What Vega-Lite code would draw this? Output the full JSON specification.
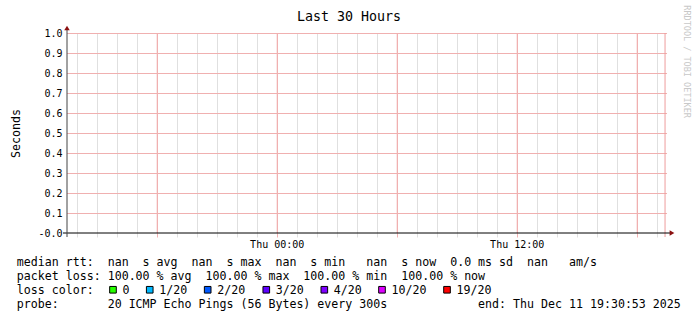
{
  "$schema": "https://vega.github.io/schema/vega-lite/v6.json",
  "background": "white",
  "padding": {"left": 10, "top": 5, "right": 0, "bottom": 0},
  "spacing": 8,
  "title": {"text": "RRDTOOL / TOBI OETIKER", "orient": "right", "anchor": "start", "frame": "bounds", "font": "DejaVu Sans Mono", "fontSize": 8.5, "fontWeight": "normal", "color": "#c8c8c8", "offset": 2, "dx": -5},
  "config": {"view": {"stroke": null}, "font": "DejaVu Sans Mono", "axis": {"gridColor": "#e0e0e0", "tickColor": "#e0e0e0"}, "axisY": {"gridColor": "#f0b0b0"}},
  "vconcat": [
    {
      "width": 600,
      "height": 200,
      "title": {"text": "Last 30 Hours", "anchor": "middle", "font": "DejaVu Sans Mono", "fontSize": 13.3, "fontWeight": "normal", "color": "#000000", "offset": 2, "dx": -18},
      "data": {"values": [
        {"time": "2025-12-10T13:30:53", "median_rtt": null, "packet_loss": 100},
        {"time": "2025-12-11T19:30:53", "median_rtt": null, "packet_loss": 100}
      ]},
      "layer": [
        {
          "mark": {"type": "line", "color": "#000000"},
          "encoding": {
            "x": {"field": "time", "type": "temporal",
              "scale": {"domain": [{"year": 2025, "month": 12, "date": 10, "hours": 13, "minutes": 30, "seconds": 53}, {"year": 2025, "month": 12, "date": 11, "hours": 19, "minutes": 30, "seconds": 53}]},
              "axis": {"title": null, "domain": false, "grid": true, "gridColor": {"condition": {"test": "indexof(['00','06','12','18'], timeFormat(datum.value, '%H')) >= 0", "value": "#f2b2b2"}, "value": "#e0e0e0"}, "ticks": true, "tickColor": {"condition": {"test": "indexof(['00','06','12','18'], timeFormat(datum.value, '%H')) >= 0", "value": "#f2b2b2"}, "value": "#e0e0e0"}, "tickSize": 4, "values": [{"year": 2025, "month": 12, "date": 10, "hours": 14}, {"year": 2025, "month": 12, "date": 10, "hours": 15}, {"year": 2025, "month": 12, "date": 10, "hours": 16}, {"year": 2025, "month": 12, "date": 10, "hours": 17}, {"year": 2025, "month": 12, "date": 10, "hours": 18}, {"year": 2025, "month": 12, "date": 10, "hours": 19}, {"year": 2025, "month": 12, "date": 10, "hours": 20}, {"year": 2025, "month": 12, "date": 10, "hours": 21}, {"year": 2025, "month": 12, "date": 10, "hours": 22}, {"year": 2025, "month": 12, "date": 10, "hours": 23}, {"year": 2025, "month": 12, "date": 11, "hours": 0}, {"year": 2025, "month": 12, "date": 11, "hours": 1}, {"year": 2025, "month": 12, "date": 11, "hours": 2}, {"year": 2025, "month": 12, "date": 11, "hours": 3}, {"year": 2025, "month": 12, "date": 11, "hours": 4}, {"year": 2025, "month": 12, "date": 11, "hours": 5}, {"year": 2025, "month": 12, "date": 11, "hours": 6}, {"year": 2025, "month": 12, "date": 11, "hours": 7}, {"year": 2025, "month": 12, "date": 11, "hours": 8}, {"year": 2025, "month": 12, "date": 11, "hours": 9}, {"year": 2025, "month": 12, "date": 11, "hours": 10}, {"year": 2025, "month": 12, "date": 11, "hours": 11}, {"year": 2025, "month": 12, "date": 11, "hours": 12}, {"year": 2025, "month": 12, "date": 11, "hours": 13}, {"year": 2025, "month": 12, "date": 11, "hours": 14}, {"year": 2025, "month": 12, "date": 11, "hours": 15}, {"year": 2025, "month": 12, "date": 11, "hours": 16}, {"year": 2025, "month": 12, "date": 11, "hours": 17}, {"year": 2025, "month": 12, "date": 11, "hours": 18}, {"year": 2025, "month": 12, "date": 11, "hours": 19}], "labelExpr": "indexof(['00','12'], timeFormat(datum.value, '%H')) >= 0 ? timeFormat(datum.value, '%a %H:%M') : ''", "labelFont": "DejaVu Sans Mono", "labelFontSize": 10, "labelColor": "#000000", "labelPadding": 2, "labelOverlap": false, "labelFlush": false}},
            "y": {"field": "median_rtt", "type": "quantitative",
              "scale": {"domain": [0, 1], "nice": false},
              "axis": {"title": "Seconds", "titleFont": "DejaVu Sans Mono", "titleFontSize": 11.6, "titleFontWeight": "normal", "titleColor": "#000000", "titlePadding": 16, "values": [0, 0.1, 0.2, 0.3, 0.4, 0.5, 0.6, 0.7, 0.8, 0.9, 1.0], "labelExpr": "datum.value == 0 ? '-0.0' : format(datum.value, '.1f')", "labelFont": "DejaVu Sans Mono", "labelFontSize": 10, "labelColor": "#000000", "labelPadding": 5, "labelOverlap": false, "labelFlush": false, "ticks": false, "domain": false, "grid": false}}
          }
        },
        {
          "data": {"values": [{"level": 0.1}, {"level": 0.2}, {"level": 0.3}, {"level": 0.4}, {"level": 0.5}, {"level": 0.6}, {"level": 0.7}, {"level": 0.8}, {"level": 0.9}, {"level": 1.0}]},
          "mark": {"type": "rule", "color": "#f0b0b0", "strokeWidth": 1, "yOffset": 0.5},
          "encoding": {
            "y": {"field": "level", "type": "quantitative",
              "axis": {"title": "Seconds", "titleFont": "DejaVu Sans Mono", "titleFontSize": 11.6, "titleFontWeight": "normal", "titleColor": "#000000", "titlePadding": 16, "values": [0, 0.1, 0.2, 0.3, 0.4, 0.5, 0.6, 0.7, 0.8, 0.9, 1.0], "labelExpr": "datum.value == 0 ? '-0.0' : format(datum.value, '.1f')", "labelFont": "DejaVu Sans Mono", "labelFontSize": 10, "labelColor": "#000000", "labelPadding": 5, "labelOverlap": false, "labelFlush": false, "ticks": false, "domain": false, "grid": false}}
          }
        },
        {
          "data": {"values": [{"major": "2025-12-10T18:00:00"}, {"major": "2025-12-11T00:00:00"}, {"major": "2025-12-11T06:00:00"}, {"major": "2025-12-11T12:00:00"}, {"major": "2025-12-11T18:00:00"}]},
          "mark": {"type": "rule", "color": "#f0b0b0", "strokeWidth": 1, "xOffset": 0.5},
          "encoding": {
            "x": {"field": "major", "type": "temporal",
              "axis": {"title": null, "domain": false, "grid": true, "gridColor": {"condition": {"test": "indexof(['00','06','12','18'], timeFormat(datum.value, '%H')) >= 0", "value": "#f2b2b2"}, "value": "#e0e0e0"}, "ticks": true, "tickColor": {"condition": {"test": "indexof(['00','06','12','18'], timeFormat(datum.value, '%H')) >= 0", "value": "#f2b2b2"}, "value": "#e0e0e0"}, "tickSize": 4, "values": [{"year": 2025, "month": 12, "date": 10, "hours": 14}, {"year": 2025, "month": 12, "date": 10, "hours": 15}, {"year": 2025, "month": 12, "date": 10, "hours": 16}, {"year": 2025, "month": 12, "date": 10, "hours": 17}, {"year": 2025, "month": 12, "date": 10, "hours": 18}, {"year": 2025, "month": 12, "date": 10, "hours": 19}, {"year": 2025, "month": 12, "date": 10, "hours": 20}, {"year": 2025, "month": 12, "date": 10, "hours": 21}, {"year": 2025, "month": 12, "date": 10, "hours": 22}, {"year": 2025, "month": 12, "date": 10, "hours": 23}, {"year": 2025, "month": 12, "date": 11, "hours": 0}, {"year": 2025, "month": 12, "date": 11, "hours": 1}, {"year": 2025, "month": 12, "date": 11, "hours": 2}, {"year": 2025, "month": 12, "date": 11, "hours": 3}, {"year": 2025, "month": 12, "date": 11, "hours": 4}, {"year": 2025, "month": 12, "date": 11, "hours": 5}, {"year": 2025, "month": 12, "date": 11, "hours": 6}, {"year": 2025, "month": 12, "date": 11, "hours": 7}, {"year": 2025, "month": 12, "date": 11, "hours": 8}, {"year": 2025, "month": 12, "date": 11, "hours": 9}, {"year": 2025, "month": 12, "date": 11, "hours": 10}, {"year": 2025, "month": 12, "date": 11, "hours": 11}, {"year": 2025, "month": 12, "date": 11, "hours": 12}, {"year": 2025, "month": 12, "date": 11, "hours": 13}, {"year": 2025, "month": 12, "date": 11, "hours": 14}, {"year": 2025, "month": 12, "date": 11, "hours": 15}, {"year": 2025, "month": 12, "date": 11, "hours": 16}, {"year": 2025, "month": 12, "date": 11, "hours": 17}, {"year": 2025, "month": 12, "date": 11, "hours": 18}, {"year": 2025, "month": 12, "date": 11, "hours": 19}], "labelExpr": "indexof(['00','12'], timeFormat(datum.value, '%H')) >= 0 ? timeFormat(datum.value, '%a %H:%M') : ''", "labelFont": "DejaVu Sans Mono", "labelFontSize": 10, "labelColor": "#000000", "labelPadding": 2, "labelOverlap": false, "labelFlush": false}}
          }
        },
        {
          "data": {"values": [{"event": "last update", "time": "2025-12-11T19:25:00"}]},
          "mark": {"type": "rule", "color": "#ee9c9c", "yOffset": 4},
          "encoding": {
            "x": {"field": "time", "type": "temporal",
              "axis": {"title": null, "domain": false, "grid": true, "gridColor": {"condition": {"test": "indexof(['00','06','12','18'], timeFormat(datum.value, '%H')) >= 0", "value": "#f2b2b2"}, "value": "#e0e0e0"}, "ticks": true, "tickColor": {"condition": {"test": "indexof(['00','06','12','18'], timeFormat(datum.value, '%H')) >= 0", "value": "#f2b2b2"}, "value": "#e0e0e0"}, "tickSize": 4, "values": [{"year": 2025, "month": 12, "date": 10, "hours": 14}, {"year": 2025, "month": 12, "date": 10, "hours": 15}, {"year": 2025, "month": 12, "date": 10, "hours": 16}, {"year": 2025, "month": 12, "date": 10, "hours": 17}, {"year": 2025, "month": 12, "date": 10, "hours": 18}, {"year": 2025, "month": 12, "date": 10, "hours": 19}, {"year": 2025, "month": 12, "date": 10, "hours": 20}, {"year": 2025, "month": 12, "date": 10, "hours": 21}, {"year": 2025, "month": 12, "date": 10, "hours": 22}, {"year": 2025, "month": 12, "date": 10, "hours": 23}, {"year": 2025, "month": 12, "date": 11, "hours": 0}, {"year": 2025, "month": 12, "date": 11, "hours": 1}, {"year": 2025, "month": 12, "date": 11, "hours": 2}, {"year": 2025, "month": 12, "date": 11, "hours": 3}, {"year": 2025, "month": 12, "date": 11, "hours": 4}, {"year": 2025, "month": 12, "date": 11, "hours": 5}, {"year": 2025, "month": 12, "date": 11, "hours": 6}, {"year": 2025, "month": 12, "date": 11, "hours": 7}, {"year": 2025, "month": 12, "date": 11, "hours": 8}, {"year": 2025, "month": 12, "date": 11, "hours": 9}, {"year": 2025, "month": 12, "date": 11, "hours": 10}, {"year": 2025, "month": 12, "date": 11, "hours": 11}, {"year": 2025, "month": 12, "date": 11, "hours": 12}, {"year": 2025, "month": 12, "date": 11, "hours": 13}, {"year": 2025, "month": 12, "date": 11, "hours": 14}, {"year": 2025, "month": 12, "date": 11, "hours": 15}, {"year": 2025, "month": 12, "date": 11, "hours": 16}, {"year": 2025, "month": 12, "date": 11, "hours": 17}, {"year": 2025, "month": 12, "date": 11, "hours": 18}, {"year": 2025, "month": 12, "date": 11, "hours": 19}], "labelExpr": "indexof(['00','12'], timeFormat(datum.value, '%H')) >= 0 ? timeFormat(datum.value, '%a %H:%M') : ''", "labelFont": "DejaVu Sans Mono", "labelFontSize": 10, "labelColor": "#000000", "labelPadding": 2, "labelOverlap": false, "labelFlush": false}},
            "y": {"datum": 0, "type": "quantitative",
              "axis": {"title": "Seconds", "titleFont": "DejaVu Sans Mono", "titleFontSize": 11.6, "titleFontWeight": "normal", "titleColor": "#000000", "titlePadding": 16, "values": [0, 0.1, 0.2, 0.3, 0.4, 0.5, 0.6, 0.7, 0.8, 0.9, 1.0], "labelExpr": "datum.value == 0 ? '-0.0' : format(datum.value, '.1f')", "labelFont": "DejaVu Sans Mono", "labelFontSize": 10, "labelColor": "#000000", "labelPadding": 5, "labelOverlap": false, "labelFlush": false, "ticks": false, "domain": false, "grid": false}},
            "y2": {"datum": 1}
          }
        },
        {
          "data": {"values": [{"part": "time axis line"}]},
          "mark": {"type": "rule", "color": "#000000", "strokeWidth": 1, "xOffset": -4, "x2Offset": 4},
          "encoding": {
            "x": {"datum": {"year": 2025, "month": 12, "date": 10, "hours": 13, "minutes": 30, "seconds": 53}, "type": "temporal",
              "axis": {"title": null, "domain": false, "grid": true, "gridColor": {"condition": {"test": "indexof(['00','06','12','18'], timeFormat(datum.value, '%H')) >= 0", "value": "#f2b2b2"}, "value": "#e0e0e0"}, "ticks": true, "tickColor": {"condition": {"test": "indexof(['00','06','12','18'], timeFormat(datum.value, '%H')) >= 0", "value": "#f2b2b2"}, "value": "#e0e0e0"}, "tickSize": 4, "values": [{"year": 2025, "month": 12, "date": 10, "hours": 14}, {"year": 2025, "month": 12, "date": 10, "hours": 15}, {"year": 2025, "month": 12, "date": 10, "hours": 16}, {"year": 2025, "month": 12, "date": 10, "hours": 17}, {"year": 2025, "month": 12, "date": 10, "hours": 18}, {"year": 2025, "month": 12, "date": 10, "hours": 19}, {"year": 2025, "month": 12, "date": 10, "hours": 20}, {"year": 2025, "month": 12, "date": 10, "hours": 21}, {"year": 2025, "month": 12, "date": 10, "hours": 22}, {"year": 2025, "month": 12, "date": 10, "hours": 23}, {"year": 2025, "month": 12, "date": 11, "hours": 0}, {"year": 2025, "month": 12, "date": 11, "hours": 1}, {"year": 2025, "month": 12, "date": 11, "hours": 2}, {"year": 2025, "month": 12, "date": 11, "hours": 3}, {"year": 2025, "month": 12, "date": 11, "hours": 4}, {"year": 2025, "month": 12, "date": 11, "hours": 5}, {"year": 2025, "month": 12, "date": 11, "hours": 6}, {"year": 2025, "month": 12, "date": 11, "hours": 7}, {"year": 2025, "month": 12, "date": 11, "hours": 8}, {"year": 2025, "month": 12, "date": 11, "hours": 9}, {"year": 2025, "month": 12, "date": 11, "hours": 10}, {"year": 2025, "month": 12, "date": 11, "hours": 11}, {"year": 2025, "month": 12, "date": 11, "hours": 12}, {"year": 2025, "month": 12, "date": 11, "hours": 13}, {"year": 2025, "month": 12, "date": 11, "hours": 14}, {"year": 2025, "month": 12, "date": 11, "hours": 15}, {"year": 2025, "month": 12, "date": 11, "hours": 16}, {"year": 2025, "month": 12, "date": 11, "hours": 17}, {"year": 2025, "month": 12, "date": 11, "hours": 18}, {"year": 2025, "month": 12, "date": 11, "hours": 19}], "labelExpr": "indexof(['00','12'], timeFormat(datum.value, '%H')) >= 0 ? timeFormat(datum.value, '%a %H:%M') : ''", "labelFont": "DejaVu Sans Mono", "labelFontSize": 10, "labelColor": "#000000", "labelPadding": 2, "labelOverlap": false, "labelFlush": false}},
            "x2": {"datum": {"year": 2025, "month": 12, "date": 11, "hours": 19, "minutes": 30, "seconds": 53}},
            "y": {"datum": 0, "type": "quantitative",
              "axis": {"title": "Seconds", "titleFont": "DejaVu Sans Mono", "titleFontSize": 11.6, "titleFontWeight": "normal", "titleColor": "#000000", "titlePadding": 16, "values": [0, 0.1, 0.2, 0.3, 0.4, 0.5, 0.6, 0.7, 0.8, 0.9, 1.0], "labelExpr": "datum.value == 0 ? '-0.0' : format(datum.value, '.1f')", "labelFont": "DejaVu Sans Mono", "labelFontSize": 10, "labelColor": "#000000", "labelPadding": 5, "labelOverlap": false, "labelFlush": false, "ticks": false, "domain": false, "grid": false}}
          }
        },
        {
          "data": {"values": [{"part": "value axis line"}]},
          "mark": {"type": "rule", "color": "#444444", "strokeWidth": 1, "yOffset": 4, "y2Offset": -5},
          "encoding": {
            "x": {"datum": {"year": 2025, "month": 12, "date": 10, "hours": 13, "minutes": 30, "seconds": 53}, "type": "temporal",
              "axis": {"title": null, "domain": false, "grid": true, "gridColor": {"condition": {"test": "indexof(['00','06','12','18'], timeFormat(datum.value, '%H')) >= 0", "value": "#f2b2b2"}, "value": "#e0e0e0"}, "ticks": true, "tickColor": {"condition": {"test": "indexof(['00','06','12','18'], timeFormat(datum.value, '%H')) >= 0", "value": "#f2b2b2"}, "value": "#e0e0e0"}, "tickSize": 4, "values": [{"year": 2025, "month": 12, "date": 10, "hours": 14}, {"year": 2025, "month": 12, "date": 10, "hours": 15}, {"year": 2025, "month": 12, "date": 10, "hours": 16}, {"year": 2025, "month": 12, "date": 10, "hours": 17}, {"year": 2025, "month": 12, "date": 10, "hours": 18}, {"year": 2025, "month": 12, "date": 10, "hours": 19}, {"year": 2025, "month": 12, "date": 10, "hours": 20}, {"year": 2025, "month": 12, "date": 10, "hours": 21}, {"year": 2025, "month": 12, "date": 10, "hours": 22}, {"year": 2025, "month": 12, "date": 10, "hours": 23}, {"year": 2025, "month": 12, "date": 11, "hours": 0}, {"year": 2025, "month": 12, "date": 11, "hours": 1}, {"year": 2025, "month": 12, "date": 11, "hours": 2}, {"year": 2025, "month": 12, "date": 11, "hours": 3}, {"year": 2025, "month": 12, "date": 11, "hours": 4}, {"year": 2025, "month": 12, "date": 11, "hours": 5}, {"year": 2025, "month": 12, "date": 11, "hours": 6}, {"year": 2025, "month": 12, "date": 11, "hours": 7}, {"year": 2025, "month": 12, "date": 11, "hours": 8}, {"year": 2025, "month": 12, "date": 11, "hours": 9}, {"year": 2025, "month": 12, "date": 11, "hours": 10}, {"year": 2025, "month": 12, "date": 11, "hours": 11}, {"year": 2025, "month": 12, "date": 11, "hours": 12}, {"year": 2025, "month": 12, "date": 11, "hours": 13}, {"year": 2025, "month": 12, "date": 11, "hours": 14}, {"year": 2025, "month": 12, "date": 11, "hours": 15}, {"year": 2025, "month": 12, "date": 11, "hours": 16}, {"year": 2025, "month": 12, "date": 11, "hours": 17}, {"year": 2025, "month": 12, "date": 11, "hours": 18}, {"year": 2025, "month": 12, "date": 11, "hours": 19}], "labelExpr": "indexof(['00','12'], timeFormat(datum.value, '%H')) >= 0 ? timeFormat(datum.value, '%a %H:%M') : ''", "labelFont": "DejaVu Sans Mono", "labelFontSize": 10, "labelColor": "#000000", "labelPadding": 2, "labelOverlap": false, "labelFlush": false}},
            "y": {"datum": 0, "type": "quantitative",
              "axis": {"title": "Seconds", "titleFont": "DejaVu Sans Mono", "titleFontSize": 11.6, "titleFontWeight": "normal", "titleColor": "#000000", "titlePadding": 16, "values": [0, 0.1, 0.2, 0.3, 0.4, 0.5, 0.6, 0.7, 0.8, 0.9, 1.0], "labelExpr": "datum.value == 0 ? '-0.0' : format(datum.value, '.1f')", "labelFont": "DejaVu Sans Mono", "labelFontSize": 10, "labelColor": "#000000", "labelPadding": 5, "labelOverlap": false, "labelFlush": false, "ticks": false, "domain": false, "grid": false}},
            "y2": {"datum": 1}
          }
        },
        {
          "data": {"values": [{"part": "value axis arrow"}]},
          "mark": {"type": "point", "shape": "triangle-up", "filled": true, "color": "#8b1010", "opacity": 1, "size": 30, "yOffset": -5},
          "encoding": {
            "x": {"datum": {"year": 2025, "month": 12, "date": 10, "hours": 13, "minutes": 30, "seconds": 53}, "type": "temporal",
              "axis": {"title": null, "domain": false, "grid": true, "gridColor": {"condition": {"test": "indexof(['00','06','12','18'], timeFormat(datum.value, '%H')) >= 0", "value": "#f2b2b2"}, "value": "#e0e0e0"}, "ticks": true, "tickColor": {"condition": {"test": "indexof(['00','06','12','18'], timeFormat(datum.value, '%H')) >= 0", "value": "#f2b2b2"}, "value": "#e0e0e0"}, "tickSize": 4, "values": [{"year": 2025, "month": 12, "date": 10, "hours": 14}, {"year": 2025, "month": 12, "date": 10, "hours": 15}, {"year": 2025, "month": 12, "date": 10, "hours": 16}, {"year": 2025, "month": 12, "date": 10, "hours": 17}, {"year": 2025, "month": 12, "date": 10, "hours": 18}, {"year": 2025, "month": 12, "date": 10, "hours": 19}, {"year": 2025, "month": 12, "date": 10, "hours": 20}, {"year": 2025, "month": 12, "date": 10, "hours": 21}, {"year": 2025, "month": 12, "date": 10, "hours": 22}, {"year": 2025, "month": 12, "date": 10, "hours": 23}, {"year": 2025, "month": 12, "date": 11, "hours": 0}, {"year": 2025, "month": 12, "date": 11, "hours": 1}, {"year": 2025, "month": 12, "date": 11, "hours": 2}, {"year": 2025, "month": 12, "date": 11, "hours": 3}, {"year": 2025, "month": 12, "date": 11, "hours": 4}, {"year": 2025, "month": 12, "date": 11, "hours": 5}, {"year": 2025, "month": 12, "date": 11, "hours": 6}, {"year": 2025, "month": 12, "date": 11, "hours": 7}, {"year": 2025, "month": 12, "date": 11, "hours": 8}, {"year": 2025, "month": 12, "date": 11, "hours": 9}, {"year": 2025, "month": 12, "date": 11, "hours": 10}, {"year": 2025, "month": 12, "date": 11, "hours": 11}, {"year": 2025, "month": 12, "date": 11, "hours": 12}, {"year": 2025, "month": 12, "date": 11, "hours": 13}, {"year": 2025, "month": 12, "date": 11, "hours": 14}, {"year": 2025, "month": 12, "date": 11, "hours": 15}, {"year": 2025, "month": 12, "date": 11, "hours": 16}, {"year": 2025, "month": 12, "date": 11, "hours": 17}, {"year": 2025, "month": 12, "date": 11, "hours": 18}, {"year": 2025, "month": 12, "date": 11, "hours": 19}], "labelExpr": "indexof(['00','12'], timeFormat(datum.value, '%H')) >= 0 ? timeFormat(datum.value, '%a %H:%M') : ''", "labelFont": "DejaVu Sans Mono", "labelFontSize": 10, "labelColor": "#000000", "labelPadding": 2, "labelOverlap": false, "labelFlush": false}},
            "y": {"datum": 1, "type": "quantitative",
              "axis": {"title": "Seconds", "titleFont": "DejaVu Sans Mono", "titleFontSize": 11.6, "titleFontWeight": "normal", "titleColor": "#000000", "titlePadding": 16, "values": [0, 0.1, 0.2, 0.3, 0.4, 0.5, 0.6, 0.7, 0.8, 0.9, 1.0], "labelExpr": "datum.value == 0 ? '-0.0' : format(datum.value, '.1f')", "labelFont": "DejaVu Sans Mono", "labelFontSize": 10, "labelColor": "#000000", "labelPadding": 5, "labelOverlap": false, "labelFlush": false, "ticks": false, "domain": false, "grid": false}}
          }
        },
        {
          "data": {"values": [{"part": "time axis arrow"}]},
          "mark": {"type": "point", "shape": "triangle-right", "filled": true, "color": "#8b1010", "opacity": 1, "size": 30, "xOffset": 5},
          "encoding": {
            "x": {"datum": {"year": 2025, "month": 12, "date": 11, "hours": 19, "minutes": 30, "seconds": 53}, "type": "temporal",
              "axis": {"title": null, "domain": false, "grid": true, "gridColor": {"condition": {"test": "indexof(['00','06','12','18'], timeFormat(datum.value, '%H')) >= 0", "value": "#f2b2b2"}, "value": "#e0e0e0"}, "ticks": true, "tickColor": {"condition": {"test": "indexof(['00','06','12','18'], timeFormat(datum.value, '%H')) >= 0", "value": "#f2b2b2"}, "value": "#e0e0e0"}, "tickSize": 4, "values": [{"year": 2025, "month": 12, "date": 10, "hours": 14}, {"year": 2025, "month": 12, "date": 10, "hours": 15}, {"year": 2025, "month": 12, "date": 10, "hours": 16}, {"year": 2025, "month": 12, "date": 10, "hours": 17}, {"year": 2025, "month": 12, "date": 10, "hours": 18}, {"year": 2025, "month": 12, "date": 10, "hours": 19}, {"year": 2025, "month": 12, "date": 10, "hours": 20}, {"year": 2025, "month": 12, "date": 10, "hours": 21}, {"year": 2025, "month": 12, "date": 10, "hours": 22}, {"year": 2025, "month": 12, "date": 10, "hours": 23}, {"year": 2025, "month": 12, "date": 11, "hours": 0}, {"year": 2025, "month": 12, "date": 11, "hours": 1}, {"year": 2025, "month": 12, "date": 11, "hours": 2}, {"year": 2025, "month": 12, "date": 11, "hours": 3}, {"year": 2025, "month": 12, "date": 11, "hours": 4}, {"year": 2025, "month": 12, "date": 11, "hours": 5}, {"year": 2025, "month": 12, "date": 11, "hours": 6}, {"year": 2025, "month": 12, "date": 11, "hours": 7}, {"year": 2025, "month": 12, "date": 11, "hours": 8}, {"year": 2025, "month": 12, "date": 11, "hours": 9}, {"year": 2025, "month": 12, "date": 11, "hours": 10}, {"year": 2025, "month": 12, "date": 11, "hours": 11}, {"year": 2025, "month": 12, "date": 11, "hours": 12}, {"year": 2025, "month": 12, "date": 11, "hours": 13}, {"year": 2025, "month": 12, "date": 11, "hours": 14}, {"year": 2025, "month": 12, "date": 11, "hours": 15}, {"year": 2025, "month": 12, "date": 11, "hours": 16}, {"year": 2025, "month": 12, "date": 11, "hours": 17}, {"year": 2025, "month": 12, "date": 11, "hours": 18}, {"year": 2025, "month": 12, "date": 11, "hours": 19}], "labelExpr": "indexof(['00','12'], timeFormat(datum.value, '%H')) >= 0 ? timeFormat(datum.value, '%a %H:%M') : ''", "labelFont": "DejaVu Sans Mono", "labelFontSize": 10, "labelColor": "#000000", "labelPadding": 2, "labelOverlap": false, "labelFlush": false}},
            "y": {"datum": 0, "type": "quantitative",
              "axis": {"title": "Seconds", "titleFont": "DejaVu Sans Mono", "titleFontSize": 11.6, "titleFontWeight": "normal", "titleColor": "#000000", "titlePadding": 16, "values": [0, 0.1, 0.2, 0.3, 0.4, 0.5, 0.6, 0.7, 0.8, 0.9, 1.0], "labelExpr": "datum.value == 0 ? '-0.0' : format(datum.value, '.1f')", "labelFont": "DejaVu Sans Mono", "labelFontSize": 10, "labelColor": "#000000", "labelPadding": 5, "labelOverlap": false, "labelFlush": false, "ticks": false, "domain": false, "grid": false}}
          }
        }
      ]
    },
    {
      "width": 600,
      "height": 42.4,
      "data": {"values": [
        {"kind": "line", "row": 0, "col": 0, "text": "median\u00a0rtt:\u00a0\u00a0nan\u00a0\u00a0s\u00a0avg\u00a0\u00a0nan\u00a0\u00a0s\u00a0max\u00a0\u00a0nan\u00a0\u00a0s\u00a0min\u00a0\u00a0\u00a0nan\u00a0\u00a0s\u00a0now\u00a0\u00a00.0\u00a0ms\u00a0sd\u00a0\u00a0nan\u00a0\u00a0\u00a0am/s"},
        {"kind": "line", "row": 1, "col": 0, "text": "packet\u00a0loss:\u00a0100.00\u00a0%\u00a0avg\u00a0\u00a0100.00\u00a0%\u00a0max\u00a0\u00a0100.00\u00a0%\u00a0min\u00a0\u00a0100.00\u00a0%\u00a0now"},
        {"kind": "line", "row": 2, "col": 0, "text": "loss\u00a0color:"},
        {"kind": "line", "row": 3, "col": 0, "text": "probe:\u00a0\u00a0\u00a0\u00a0\u00a0\u00a0\u00a020\u00a0ICMP\u00a0Echo\u00a0Pings\u00a0(56\u00a0Bytes)\u00a0every\u00a0300s\u00a0\u00a0\u00a0\u00a0\u00a0\u00a0\u00a0\u00a0\u00a0\u00a0\u00a0\u00a0\u00a0end:\u00a0Thu\u00a0Dec\u00a011\u00a019:30:53\u00a02025"},
        {"kind": "loss", "row": 2, "col": 13.74, "text": "0", "color": "#26ff00"},
        {"kind": "loss", "row": 2, "col": 18.99, "text": "1/20", "color": "#00b8ff"},
        {"kind": "loss", "row": 2, "col": 27.27, "text": "2/20", "color": "#0059ff"},
        {"kind": "loss", "row": 2, "col": 35.64, "text": "3/20", "color": "#5e00ff"},
        {"kind": "loss", "row": 2, "col": 43.93, "text": "4/20", "color": "#7e00ff"},
        {"kind": "loss", "row": 2, "col": 52.17, "text": "10/20", "color": "#dd00ff"},
        {"kind": "loss", "row": 2, "col": 61.46, "text": "19/20", "color": "#ff0000"}
      ]},
      "encoding": {
        "x": {"field": "col", "type": "quantitative", "scale": {"domain": [7.171, 92.886], "nice": false, "zero": false}, "axis": null},
        "y": {"field": "row", "type": "quantitative", "scale": {"domain": [0, 3], "nice": false, "reverse": true}, "axis": null}
      },
      "layer": [
        {
          "transform": [{"filter": "datum.kind == 'line'"}],
          "mark": {"type": "text", "align": "left", "baseline": "alphabetic", "font": "DejaVu Sans Mono", "fontSize": 11.627, "color": "#000000"},
          "encoding": {"text": {"field": "text"}}
        },
        {
          "transform": [{"filter": "datum.kind == 'loss'"}],
          "mark": {"type": "text", "align": "left", "baseline": "alphabetic", "font": "DejaVu Sans Mono", "fontSize": 11.627, "color": "#000000", "dx": 9.5},
          "encoding": {"text": {"field": "text"}}
        },
        {
          "transform": [{"filter": "datum.kind == 'loss'"}],
          "mark": {"type": "square", "filled": true, "opacity": 1, "stroke": "#000000", "strokeWidth": 1, "size": 44, "yOffset": -4.5},
          "encoding": {"color": {"field": "color", "type": "nominal", "scale": null, "legend": null}}
        }
      ]
    }
  ]
}
